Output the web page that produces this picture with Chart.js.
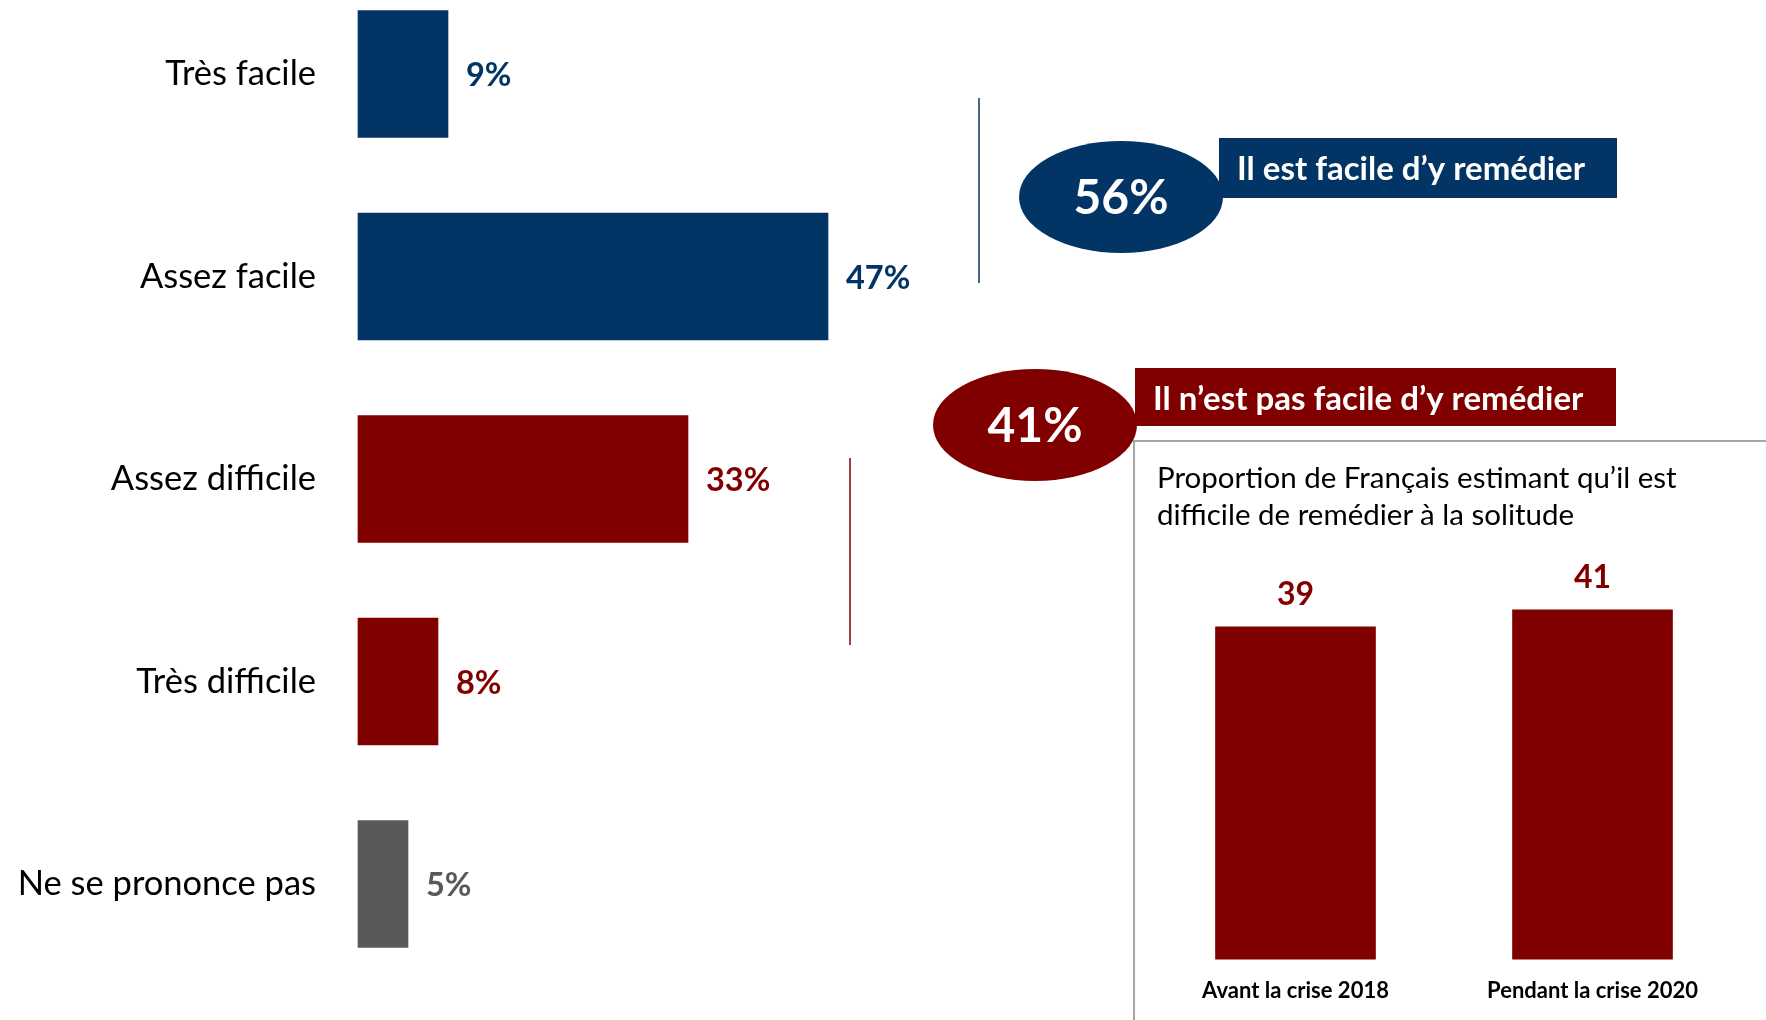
<!DOCTYPE html>
<html lang="fr">
<head>
<meta charset="utf-8">
<script src="https://cdn.jsdelivr.net/npm/chart.js@4.4.1/dist/chart.umd.min.js"></script>
<style>
  body { margin: 0; background: #fff; }
  #page { position: relative; width: 1766px; height: 1020px; overflow: hidden; font-family: Lato, sans-serif; }
  #mainWrap { position: absolute; left: 0; top: 0; width: 1766px; height: 1020px; }
  #insetTitle { position: absolute; left: 1157px; top: 458px; font-size: 29.5px; line-height: 37px; color: #000; }
  #insetWrap { position: absolute; left: 1134px; top: 533px; width: 632px; height: 490px; }
</style>
</head>
<body>
<div id="page">
  <div id="mainWrap"><canvas id="main"></canvas></div>
  <div id="insetTitle">Proportion de Français estimant qu’il est<br>difficile de remédier à la solitude</div>
  <div id="insetWrap"><canvas id="inset"></canvas></div>
</div>
<script>
const NAVY = "#023466";
const RED = "#800000";
const GREY = "#595959";

// left chart
const categories = ["Très facile", "Assez facile", "Assez difficile", "Très difficile", "Ne se prononce pas"];
const shares = [9, 47, 33, 8, 5];
const barColors = [NAVY, NAVY, RED, RED, GREY];

// summary callouts
const summaryLabels = ["Il est facile d’y remédier", "Il n’est pas facile d’y remédier"];
const summaryValues = [56, 41];
const summaryColors = [NAVY, RED];

// inset chart
const periods = ["Avant la crise 2018", "Pendant la crise 2020"];
const difficultShares = [39, 41];

const valueLabels = {
  id: "valueLabels",
  afterDatasetsDraw(chart) {
    const ctx = chart.ctx;
    const bars = chart.getDatasetMeta(0).data;
    ctx.save();
    ctx.font = "bold 32.5px Lato";
    ctx.textBaseline = "middle";
    bars.forEach((bar, i) => {
      ctx.fillStyle = barColors[i];
      ctx.fillText(shares[i] + "%", bar.x + 18, bar.y + 2);
    });
    ctx.restore();
  },
};

function drawBadge(ctx, b, i) {
  ctx.fillStyle = summaryColors[i];
  ctx.fillRect(b.rect[0], b.rect[1], b.rect[2] - b.rect[0], b.rect[3] - b.rect[1]);
  ctx.beginPath();
  ctx.ellipse(b.cx, b.cy, 102, 56, 0, 0, Math.PI * 2);
  ctx.fill();
  ctx.fillStyle = "#fff";
  ctx.textBaseline = "middle";
  ctx.textAlign = "left";
  ctx.font = "bold 33px Lato";
  ctx.fillText(summaryLabels[i], b.textX, b.textY);
  ctx.textAlign = "center";
  ctx.font = "bold 48px Lato";
  ctx.fillText(summaryValues[i] + "%", b.cx, b.cy + 2);
}

const callouts = {
  id: "callouts",
  afterDraw(chart) {
    const ctx = chart.ctx;
    ctx.save();
    // inset frame
    ctx.strokeStyle = "#a6a6a6";
    ctx.lineWidth = 2;
    ctx.beginPath();
    ctx.moveTo(1134, 1020);
    ctx.lineTo(1134, 441);
    ctx.lineTo(1766, 441);
    ctx.stroke();
    // brackets
    ctx.lineWidth = 1.5;
    ctx.strokeStyle = NAVY;
    ctx.beginPath();
    ctx.moveTo(979, 98);
    ctx.lineTo(979, 283);
    ctx.stroke();
    ctx.strokeStyle = RED;
    ctx.beginPath();
    ctx.moveTo(850, 458);
    ctx.lineTo(850, 645);
    ctx.stroke();
    // badges
    drawBadge(ctx, { cx: 1121, cy: 197, rect: [1219, 138, 1617, 198], textX: 1237, textY: 169 }, 0);
    drawBadge(ctx, { cx: 1035, cy: 425, rect: [1135, 368, 1616, 426], textX: 1153, textY: 399 }, 1);
    ctx.restore();
  },
};

new Chart(document.getElementById("main"), {
  type: "bar",
  data: {
    labels: categories,
    datasets: [{ data: shares, backgroundColor: barColors, barThickness: 127, clip: false }],
  },
  options: {
    indexAxis: "y",
    responsive: true,
    maintainAspectRatio: false,
    animation: false,
    layout: { padding: { top: 74, bottom: 136, right: 808 } },
    scales: {
      x: { display: false, min: 0, max: 60 },
      y: {
        offset: false,
        grid: { display: false },
        border: { display: false },
        ticks: { padding: 34, color: "#000", font: { family: "Lato", size: 34.5 } },
        afterFit: (axis) => { axis.width = 358; },
      },
    },
    plugins: { legend: { display: false }, tooltip: { enabled: false } },
  },
  plugins: [valueLabels, callouts],
});

const insetLabels = {
  id: "insetLabels",
  afterDatasetsDraw(chart) {
    const ctx = chart.ctx;
    ctx.save();
    ctx.font = "bold 32px Lato";
    ctx.fillStyle = RED;
    ctx.textAlign = "center";
    ctx.textBaseline = "middle";
    chart.getDatasetMeta(0).data.forEach((bar, i) => {
      ctx.fillText(difficultShares[i], bar.x, bar.y - 32);
    });
    ctx.restore();
  },
};

new Chart(document.getElementById("inset"), {
  type: "bar",
  data: {
    labels: periods,
    datasets: [{ data: difficultShares, backgroundColor: RED, barThickness: 160 }],
  },
  options: {
    responsive: true,
    maintainAspectRatio: false,
    animation: false,
    layout: { padding: { left: 13, right: 25, top: 0, bottom: 9 } },
    scales: {
      x: {
        grid: { display: false },
        border: { display: false },
        ticks: { padding: 10, color: "#000", font: { family: "Lato", size: 22, weight: "bold" } },
      },
      y: { display: false, min: 0, max: 50 },
    },
    plugins: { legend: { display: false }, tooltip: { enabled: false } },
  },
  plugins: [insetLabels],
});
</script>
</body>
</html>
